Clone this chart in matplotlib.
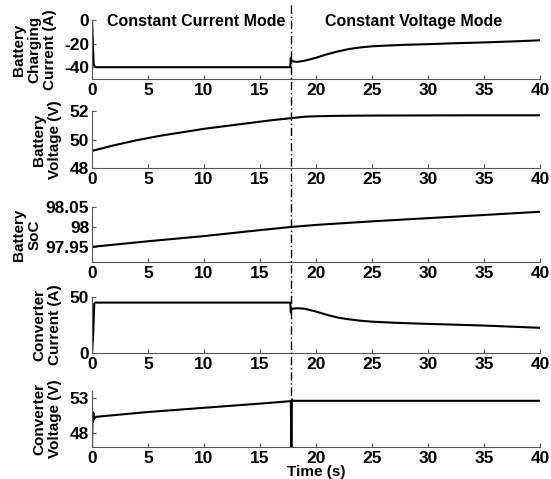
import matplotlib
matplotlib.use("Agg")
import matplotlib.pyplot as plt
from matplotlib.lines import Line2D

plt.rcParams['font.family'] = ['Liberation Sans', 'DejaVu Sans']
plt.rcParams['font.weight'] = 'bold'

t_switch = 17.8

# Panel 1: battery charging current (A)
t1 = [0, 0.15, 0.3, 5, 10, 17.7, 17.75, 17.8, 17.9, 18.3, 19, 20, 21, 22, 23, 24, 25, 26, 28, 30, 32, 35, 38, 40]
i_bat = [0, -38, -40, -40, -40, -40, -32, -34, -35, -35.5, -34.5, -32, -29, -26.5, -24.5, -23.2, -22.3, -21.8, -21.0, -20.5, -19.8, -19.0, -18.0, -17.2]

# Panel 2: battery voltage (V)
t2 = [0, 2, 4, 6, 8, 10, 12, 14, 16, 17.8, 19, 20, 22, 25, 30, 35, 40]
v_bat = [49.2, 49.6, 49.95, 50.25, 50.5, 50.75, 50.95, 51.15, 51.35, 51.5, 51.6, 51.63, 51.66, 51.68, 51.69, 51.7, 51.7]

# Panel 3: battery SoC
t3 = [0, 5, 10, 15, 17.8, 20, 25, 30, 35, 40]
soc = [97.95, 97.964, 97.977, 97.992, 98.0, 98.005, 98.014, 98.022, 98.03, 98.038]

# Panel 4: converter current (A)
t4 = [0, 0.1, 0.2, 0.3, 5, 10, 17.7, 17.75, 17.8, 17.85, 18.3, 19, 20, 21, 22, 23, 24, 25, 27, 30, 35, 40]
i_conv = [0, 15, 44, 45, 45, 45, 45, 36, 39, 39.5, 40, 39.5, 37, 34, 31.5, 30, 28.8, 28, 27, 26, 24.5, 22.5]

# Panel 5: converter voltage (V)
t5 = [0, 0.05, 0.1, 0.15, 0.2, 0.3, 5, 10, 15, 17.75, 17.8, 17.85, 17.9, 20, 25, 30, 35, 40]
v_conv = [46, 51.0, 49.6, 50.8, 50.0, 50.3, 51.0, 51.6, 52.2, 52.55, 46.0, 52.8, 52.6, 52.6, 52.6, 52.6, 52.6, 52.6]

series = [(t1, i_bat), (t2, v_bat), (t3, soc), (t4, i_conv), (t5, v_conv)]
ylabels = ['Battery\nCharging\nCurrent (A)', 'Battery\nVoltage (V)', 'Battery\nSoC',
           'Converter\nCurrent (A)', 'Converter\nVoltage (V)']
ylims = [(-50, 0), (48, 52), (97.912, 98.05), (0, 50), (46, 54)]
yticks = [[-40, -20, 0], [48, 50, 52], [97.95, 98, 98.05], [0, 50], [48, 53]]
yticklabels = [['-40', '-20', '0'], ['48', '50', '52'], ['97.95', '98', '98.05'], ['0', '50'], ['48', '53']]
xticks = [0, 5, 10, 15, 20, 25, 30, 35, 40]

W, H = 551, 479
fig = plt.figure(figsize=(W / 100, H / 100), dpi=100)
panel_px = [(20, 79), (111, 168), (207, 262), (297, 353), (391, 447)]
left_px, right_px = 92, 540
label_x_px = [57, 62, 42, 62, 62]

axes = []
for k, ((tt, yy), (top, bot)) in enumerate(zip(series, panel_px)):
    ax = fig.add_axes([left_px / W, 1 - bot / H, (right_px - left_px) / W, (bot - top) / H])
    ax.plot(tt, yy, color='black', lw=1.5)
    ax.set_xlim(0, 40)
    ax.set_ylim(*ylims[k])
    ax.set_yticks(yticks[k])
    ax.set_yticklabels(yticklabels[k])
    ax.set_xticks(xticks)
    ax.set_xticklabels([str(x) for x in xticks])
    ax.spines['top'].set_visible(False)
    ax.spines['right'].set_visible(False)
    ax.spines['left'].set_color('#555555')
    ax.spines['bottom'].set_color('#555555')
    ax.tick_params(direction='in', length=3, width=0.8, colors='#555555', labelcolor='black',
                   labelsize=12.5)
    ax.tick_params(axis='x', pad=3)
    ax.tick_params(axis='y', pad=2)
    for lab in ax.get_xticklabels() + ax.get_yticklabels():
        lab.set_fontweight('bold')
    ax.set_ylabel(ylabels[k], fontsize=11, fontweight='bold', linespacing=1.15)
    ax.yaxis.set_label_coords((label_x_px[k] - left_px) / (right_px - left_px), 0.5)
    ax.patch.set_alpha(0)
    axes.append(ax)

# Mode switch line spanning all panels (figure coordinates from the data x position)
x_fig = (left_px + (right_px - left_px) * t_switch / 40) / W
fig.add_artist(Line2D([x_fig, x_fig], [1 - 5 / H, 1 - 447 / H], transform=fig.transFigure,
                      color='black', lw=1.0, ls=(0, (6, 2, 1, 2))))

axes[0].text(0.033, 0.98, 'Constant Current Mode', transform=axes[0].transAxes,
             fontsize=11.5, fontweight='bold', ha='left', va='center')
axes[0].text(0.52, 0.98, 'Constant Voltage Mode', transform=axes[0].transAxes,
             fontsize=11.5, fontweight='bold', ha='left', va='center')
axes[-1].set_xlabel('Time (s)', fontsize=11, fontweight='bold', labelpad=-1)

fig.savefig('out.png', dpi=100)
